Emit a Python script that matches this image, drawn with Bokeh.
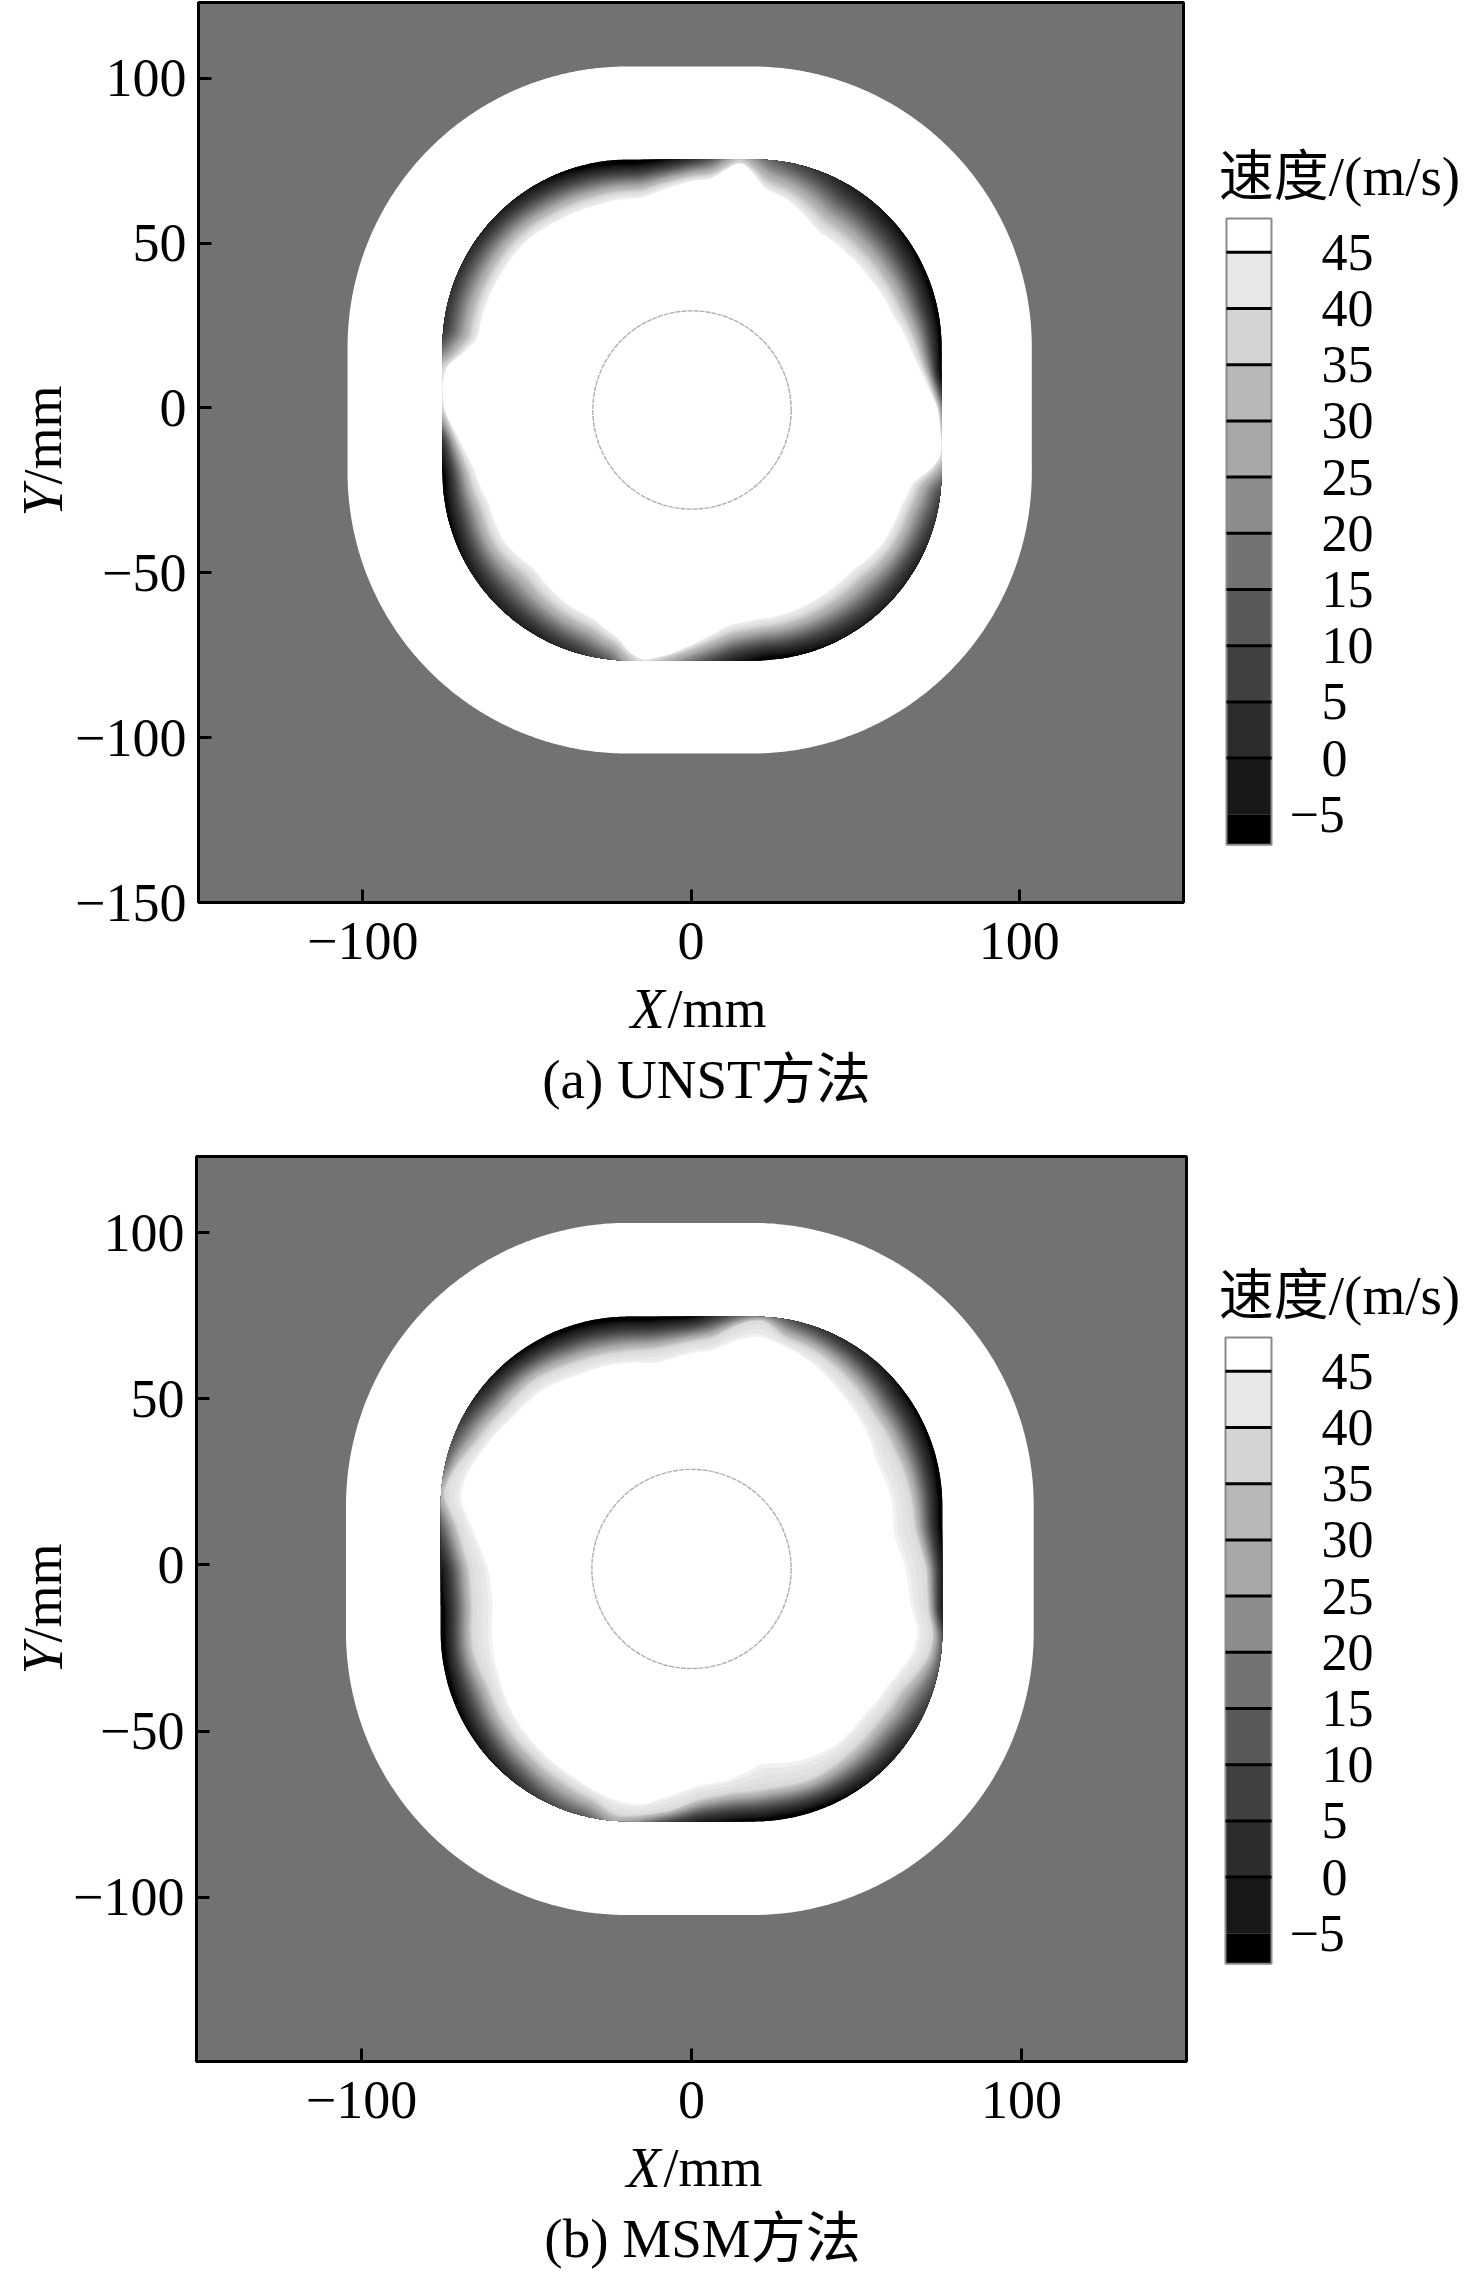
import numpy as np
from bokeh.core.properties import value
from bokeh.embed import file_html
from bokeh.layouts import column, row
from bokeh.models import FixedTicker, Range1d
from bokeh.plotting import figure
from bokeh.resources import INLINE

# ---- legend
level_ticks = [45, 40, 35, 30, 25, 20, 15, 10, 5, 0, -5]
level_labels = ["45", "40", "35", "30", "25", "20", "15", "10", "5", "0", "\u22125"]
band_top = [48, 45, 40, 35, 30, 25, 20, 15, 10, 5, 0, -5]
band_bottom = [45, 40, 35, 30, 25, 20, 15, 10, 5, 0, -5, -7.7]
band_gray = [255, 232, 212, 184, 168, 140, 115, 88, 64, 44, 24, 0]
band_mid = [46.5, 42.5, 37.5, 32.5, 27.5, 22.5, 17.5, 12.5, 7.5, 2.5, -2.5, -6.0]

# ---- wall-velocity field of panel (a): angle (deg), velocity at wall, depth to white (mm)
a_angle = [0, 8, 15, 25, 35, 45, 55, 65, 72, 76, 79, 85, 90, 97, 103, 115, 125, 135, 145, 155, 162, 167, 170, 175,
           180, 187, 195, 205, 215, 225, 235, 245, 252, 256, 259, 265, 272, 280, 287, 295, 305, 315, 325, 335, 342, 346, 349, 352]
a_wall = [25, -7, -7, -7, -5, -3, 0, 8, 15, 25, 40, 15, 5, -5, -10, -7, -3, 0, 3, 5, 5, 20, 40, 45,
          40, 5, -8, -5, -2, 0, 0, 5, 15, 35, 45, 30, 15, 0, -8, -5, -2, 0, 0, 5, 10, 25, 40, 45]
a_depth = [1, 5.5, 9.5, 14, 16, 17, 17, 11.5, 9, 3.5, 0.5, 6, 6.5, 9, 12, 13, 13, 12, 12, 11.5, 11, 5.5, 1, 0,
           0.5, 5, 10, 13.5, 13.5, 16, 13.5, 11.5, 7, 2, 0, 2, 6, 11, 13, 13.5, 14.5, 15, 12.5, 11.5, 9, 3.5, 0.5, 0]
a_light = [round(v * 0.85, 2) for v in a_depth]

# ---- panel (b): angle, velocity at wall, depth to light band, depth to white
b_angle = [0, 10, 20, 30, 40, 50, 60, 68, 74, 78, 85, 90, 100, 110, 120, 130, 140, 150, 158, 163, 170, 180,
           190, 200, 210, 220, 230, 240, 247, 253, 258, 265, 272, 280, 290, 300, 310, 320, 330, 340, 345, 350]
b_wall = [0, -8, -8, -6, -5, 0, 5, 12, 25, 20, 5, -5, -8, -8, -7, -5, 0, 10, 18, 35, 15, -3,
          -8, -8, -6, -3, 3, 12, 15, 30, 25, 10, 0, -5, -8, -7, -3, 0, 8, 15, 15, 0]
b_light = [5, 8.7, 10.5, 12, 12, 10, 7.5, 6, 1, 2, 7, 7.8, 10.5, 11.5, 11.5, 10, 10, 7.5, 3, 1, 5.5, 9,
           10, 10, 12, 11, 10, 8, 6, 2, 2, 3.5, 7, 9, 10.5, 10, 11, 11.5, 10, 4, 3, 4.5]
b_depth = [11, 15, 16, 18, 16, 14, 10.5, 8, 6, 7, 10.5, 11, 14.3, 14.5, 15, 13.5, 13, 10, 7, 6, 10, 14.5,
           16, 16, 15.5, 14, 12.5, 10.5, 8, 6, 5, 8, 10.8, 12.5, 18, 16, 15, 15.5, 13.5, 8.5, 7.5, 9.5]

x_ticks = [-100, 0, 100]
y_ticks_a = [100, 50, 0, -50, -100, -150]
y_ticks_b = [100, 50, 0, -50, -100]
TICK_TEXT = {v: str(v).replace("-", "\u2212") for v in [-150, -100, -50, 0, 50, 100]}

SERIF = "Liberation Serif, Noto Sans CJK SC"
FS = "54px"
BG = "#727272"
SHAPE_INNER = (76.0, 57.0, 19.0)
SHAPE_OUTER = (104.2, 85.2, 19.0)
angles = np.arange(0.0, 360.0, 0.5)
W_YLAB = 70
W_MAIN = 1130
W_LEG = 276
CAP_OVERLAP = 25


def wall_radius(deg, half, corner, k):
    t = np.radians(deg)
    ax, ay = np.abs(np.cos(t)), np.abs(np.sin(t))
    r = half / np.maximum(ax, ay)
    s = ax + ay
    rc = k * s + np.sqrt(np.maximum(k * k * s * s - (2 * k * k - corner * corner), 0))
    flat = np.minimum(r * ax, r * ay) <= k
    return np.where(flat, r, rc)


def gray(v):
    g = int(round(float(np.interp(v, band_mid[::-1], band_gray[::-1]))))
    return "#%02x%02x%02x" % (g, g, g)


def smooth(vals):
    kernel = np.array([1, 2, 3, 4, 5, 4, 3, 2, 1], dtype=float)
    kernel /= kernel.sum()
    n = len(kernel) // 2
    wrapped = np.concatenate([vals[-n:], vals, vals[:n]])
    return np.convolve(wrapped, kernel, mode="valid")


def panel(height, border, x_rng, y_rng, yticks, field, cx, cy, ocx, ocy):
    left, right, top, bottom = border
    p = figure(width=W_MAIN, height=height, output_backend="svg", toolbar_location=None,
               x_range=Range1d(*x_rng), y_range=Range1d(*y_rng),
               min_border_left=left, min_border_right=right, min_border_top=top, min_border_bottom=bottom,
               background_fill_color=BG, border_fill_color="white",
               outline_line_color="black", outline_line_width=3)
    p.grid.visible = False
    p.xaxis.ticker = FixedTicker(ticks=x_ticks)
    p.yaxis.ticker = FixedTicker(ticks=yticks)
    p.xaxis.major_label_overrides = TICK_TEXT
    p.yaxis.major_label_overrides = TICK_TEXT
    for ax in (p.xaxis[0], p.yaxis[0]):
        ax.major_tick_in = 13
        ax.major_tick_out = 0
        ax.minor_tick_in = 0
        ax.minor_tick_out = 0
        ax.major_tick_line_width = 3
        ax.major_tick_line_color = "black"
        ax.axis_line_width = 3
        ax.axis_line_color = "black"
        ax.major_label_text_font = "Liberation Serif"
        ax.major_label_text_font_size = FS
        ax.major_label_text_color = "black"
    p.xaxis.major_label_standoff = 20
    p.yaxis.major_label_standoff = 12

    ro = wall_radius(angles, *SHAPE_OUTER)
    t = np.radians(angles)
    p.patch(ocx + ro * np.cos(t), ocy + ro * np.sin(t), fill_color="white", line_color=None)

    th, vw, dl, dw = field
    vw_i = smooth(np.interp(angles, th, vw, period=360))
    dl_i = smooth(np.interp(angles, th, dl, period=360))
    dw_i = smooth(np.interp(angles, th, dw, period=360))
    rw = wall_radius(angles, *SHAPE_INNER)
    levels = list(np.arange(-10.0, 45.0, 1.5)) + [45.0]
    xs, ys, cols = [], [], []
    for L in levels:
        f1 = np.clip((L - vw_i) / np.maximum(40 - vw_i, 1), 0, 1) ** 0.85
        f2 = np.where(L > vw_i, np.clip((L - 40) / 5, 0, 1), 0)
        r = rw - (f1 * dl_i + f2 * (dw_i - dl_i))
        xs.append(cx + r * np.cos(t))
        ys.append(cy + r * np.sin(t))
        cols.append("#ffffff" if L >= 45 else gray(L))
    p.patches(xs, ys, fill_color=cols, line_color=None)
    p.circle(x=[cx], y=[cy], radius=30.2, fill_color=None, line_color="#b0b0b0", line_width=1.4, line_dash="5 1")
    return p


def legend(height, border, ref_px, frame_px, title_px, box, x_digits, x_minus):
    top, bottom = border
    to_v = lambda py: 45 - (py - ref_px) / 11.24
    p = figure(width=W_LEG, height=height, output_backend="svg", toolbar_location=None,
               x_range=Range1d(1200, 1476), y_range=Range1d(to_v(frame_px[1]), to_v(frame_px[0])),
               x_axis_type=None, y_axis_type=None, min_border_left=0, min_border_right=0,
               min_border_top=top, min_border_bottom=bottom,
               outline_line_color=None, background_fill_color="white", border_fill_color="white")
    p.grid.visible = False
    cols = ["#%02x%02x%02x" % (g, g, g) for g in band_gray]
    p.quad(left=box[0], right=box[1], top=band_top, bottom=band_bottom, fill_color=cols, line_color=None)
    p.quad(left=box[0], right=box[1], top=[band_top[0]], bottom=[band_bottom[-1]],
           fill_color=None, line_color="#8a8a8a", line_width=2)
    p.segment(x0=box[0], x1=box[1], y0=level_ticks[:-1], y1=level_ticks[:-1], line_color="black", line_width=3)
    xs = [x_digits] * (len(level_ticks) - 1) + [x_minus]
    p.text(x=xs, y=level_ticks, text=level_labels, text_font=value("Liberation Serif"), text_font_size="52px",
           text_align="left", text_baseline="middle", text_color="black")
    p.text(x=[1339], y=[to_v(title_px)], text=["\u901f\u5ea6/(m/s)"], text_font=value(SERIF), text_font_size="55px",
           text_align="center", text_baseline="middle", text_color="black")
    return p


def ylabel_fig(height, border, frame_px, start_px):
    top, bottom = border
    p = figure(width=W_YLAB, height=height, output_backend="svg", toolbar_location=None,
               x_range=Range1d(0, W_YLAB), y_range=Range1d(frame_px[1], frame_px[0]),
               x_axis_type=None, y_axis_type=None, min_border_left=0, min_border_right=0,
               min_border_top=top, min_border_bottom=bottom, outline_line_color=None)
    p.grid.visible = False
    p.text(x=[42], y=[start_px], text=["Y"], text_font=value("Liberation Serif"), text_font_style="italic",
           text_font_size="56px", angle=90, angle_units="deg", text_baseline="alphabetic", text_align="left")
    p.text(x=[42], y=[start_px - 32], text=["/mm"], text_font=value("Liberation Serif"),
           text_font_size=FS, angle=90, angle_units="deg", text_baseline="alphabetic", text_align="left")
    return p


def caption_fig(y_px, xlab, xlab_y, caption, cap_x, cap_y):
    top_px = y_px[0] - CAP_OVERLAP
    p = figure(width=W_YLAB + W_MAIN + W_LEG, height=y_px[1] - top_px, output_backend="svg", toolbar_location=None,
               x_range=Range1d(0, W_YLAB + W_MAIN + W_LEG), y_range=Range1d(y_px[1], top_px),
               x_axis_type=None, y_axis_type=None, min_border_left=0, min_border_right=0,
               min_border_top=0, min_border_bottom=0, outline_line_color=None,
               background_fill_color=None, border_fill_color=None, margin=(-CAP_OVERLAP, 0, 0, 0))
    p.grid.visible = False
    p.text(x=[xlab], y=[xlab_y], text=["X"], text_font=value("Liberation Serif"), text_font_style="italic",
           text_font_size="56px", text_baseline="alphabetic", text_align="left")
    p.text(x=[xlab + 37], y=[xlab_y], text=["/mm"], text_font=value("Liberation Serif"),
           text_font_size=FS, text_baseline="alphabetic", text_align="left")
    p.text(x=[cap_x], y=[cap_y], text=[caption], text_font=value(SERIF), text_font_size="55px",
           text_baseline="alphabetic", text_align="center")
    return p


SPLIT_A = 985
SPLIT_MID = 1125
SPLIT_B = 2142
PAGE_H = 2274

pa = panel(SPLIT_A, (128, 1200 - 1183, 2, SPLIT_A - 902), (-150, 150), (-150, 123), y_ticks_a,
           (a_angle, a_wall, a_light, a_depth), 0.3, -0.6, -0.4, -0.6)
pb = panel(SPLIT_B - SPLIT_MID, (126, 1200 - 1186, 31, SPLIT_B - 2061), (-150, 150), (-149.5, 123), y_ticks_b,
           (b_angle, b_wall, b_light, b_depth), 0.0, -1.2, -0.5, -1.2)

la = legend(SPLIT_A, (2, SPLIT_A - 902), 251.8, (2, 902), 176, (1226, 1271), 1321, 1289)
lb = legend(SPLIT_B - SPLIT_MID, (31, SPLIT_B - 2061), 1370.8, (1156, 2061), 1295, (1225, 1271), 1321, 1289)

ya = ylabel_fig(SPLIT_A, (2, SPLIT_A - 902), (2, 902), 516)
yb = ylabel_fig(SPLIT_B - SPLIT_MID, (31, SPLIT_B - 2061), (1156, 2061), 1674)

ca = caption_fig((SPLIT_A, SPLIT_MID), 630, 1008, "(a) UNST\u65b9\u6cd5", 706, 1079)
cb = caption_fig((SPLIT_B, PAGE_H), 626, 2167, "(b) MSM\u65b9\u6cd5", 702, 2238)

layout = column(row(ya, pa, la, spacing=0), ca, row(yb, pb, lb, spacing=0), cb, spacing=0, margin=0)

open("out.html", "w").write(file_html(layout, INLINE))
